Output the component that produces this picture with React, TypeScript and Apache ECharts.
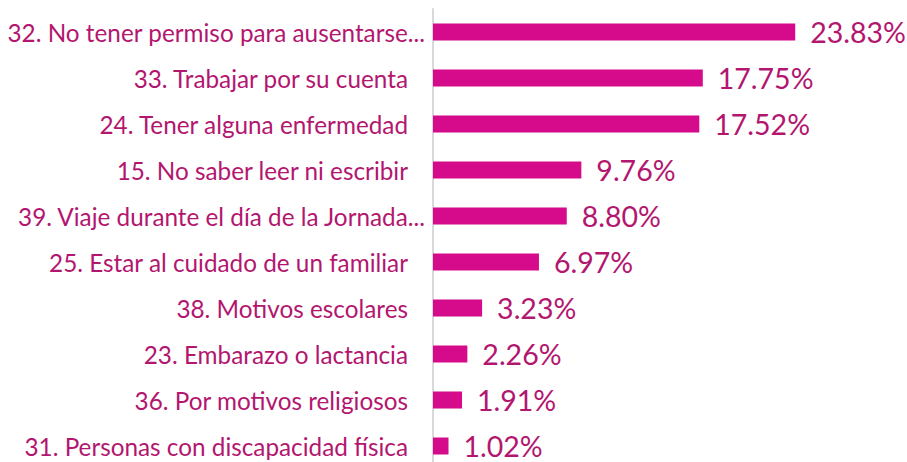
import React, { useEffect, useRef } from "react";
import * as echarts from "echarts";

const categories = [
  "32. No tener permiso para ausentarse...",
  "33. Trabajar por su cuenta",
  "24. Tener alguna enfermedad",
  "15. No saber leer ni escribir",
  "39. Viaje durante el día de la Jornada...",
  "25. Estar al cuidado de un familiar",
  "38. Motivos escolares",
  "23. Embarazo o lactancia",
  "36. Por motivos religiosos",
  "31. Personas con discapacidad física",
];
const values = [23.83, 17.75, 17.52, 9.76, 8.8, 6.97, 3.23, 2.26, 1.91, 1.02];

const BAR = "#D50B8B";
const TEXT = "#B3166F";
const FONT = "Lato, 'Noto Sans', sans-serif";

export default function App() {
  const ref = useRef<HTMLDivElement>(null);
  useEffect(() => {
    if (!ref.current) return;
    const chart = echarts.init(ref.current, null, { renderer: "svg" });
    chart.setOption({
      animation: false,
      grid: { left: 433, right: 18, top: 9, bottom: 1, containLabel: false },
      xAxis: {
        type: "value",
        min: 0,
        max: 30,
        show: false,
        splitLine: { show: false },
      },
      yAxis: {
        type: "category",
        inverse: true,
        data: categories,
        axisLine: { show: true, lineStyle: { color: "#D9D9D9", width: 2 } },
        axisTick: { show: false },
        axisLabel: {
          margin: 8,
          formatter: (v: string) => (v.endsWith("...") ? `{e|${v}}` : `{n|${v}}`),
          rich: {
            e: { color: TEXT, fontSize: 24.3, fontFamily: FONT },
            n: { color: TEXT, fontSize: 24.3, fontFamily: FONT, padding: [0, 17, 0, 0] },
          },
        },
      },
      series: [
        {
          type: "bar",
          data: values,
          barWidth: 17,
          itemStyle: { color: BAR },
          label: {
            show: true,
            position: "right",
            distance: 15,
            color: TEXT,
            fontSize: 28.5,
            fontFamily: FONT,
            formatter: (p: any) => p.value.toFixed(2) + "%",
          },
        },
      ],
    });
    return () => chart.dispose();
  }, []);
  return (
    <div style={{ position: "absolute", left: 0, top: 0, width: 907, height: 462, overflow: "hidden", background: "#fff" }}>
      <div ref={ref} style={{ width: 907, height: 470 }} />
    </div>
  );
}
